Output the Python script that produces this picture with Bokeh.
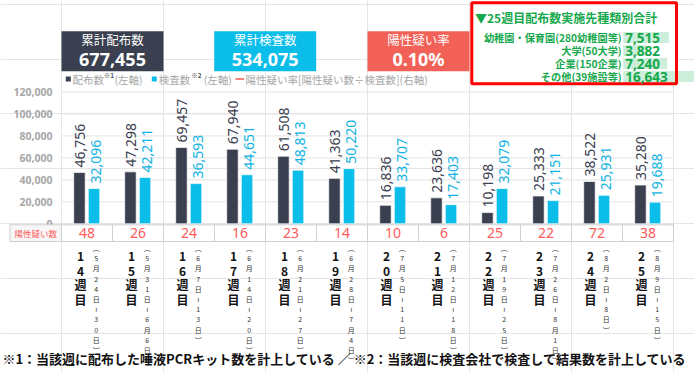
import math
from bokeh.plotting import figure
from bokeh.models import Range1d, ColumnDataSource
from bokeh.core.properties import value
from bokeh.transform import dodge
from bokeh.embed import file_html
from bokeh.resources import INLINE

# ---------------- data ----------------
weeks = ["14週目", "15週目", "16週目", "17週目", "18週目", "19週目",
         "20週目", "21週目", "22週目", "23週目", "24週目", "25週目"]
dates = ["5月24日~30日", "5月31日~6月6日", "6月7日~13日", "6月14日~20日",
         "6月21日~27日", "6月28日~7月4日", "7月5日~11日", "7月12日~18日",
         "7月19日~25日", "7月26日~8月1日", "8月2日~8日", "8月9日~15日"]
distributed = [46756, 47298, 69457, 67940, 61508, 41363, 16836, 23636, 10198, 25333, 38522, 35280]
tested = [32096, 42211, 36593, 44651, 48813, 50220, 33707, 17403, 32079, 21151, 25931, 19688]
suspected = [48, 26, 24, 16, 23, 14, 10, 6, 25, 22, 72, 38]
y_ticks = [0, 20000, 40000, 60000, 80000, 100000, 120000]

summary_titles = ["累計配布数", "累計検査数", "陽性疑い率"]
summary_values = ["677,455", "534,075", "0.10%"]

gb_title = "▼25週目配布数実施先種類別合計"
gb_labels = ["幼稚園・保育園(280幼稚園等)", "大学(50大学)", "企業(150企業)", "その他(39施設等)"]
gb_values = [7515, 3882, 7240, 16643]

table_label = "陽性疑い数"
legend_texts = ["配布数", "(左軸)", "検査数", "(左軸)", "陽性疑い率[陽性疑い数÷検査数](右軸)"]
legend_marks = ["※1", "※2"]
footnote = "※1：当該週に配布した唾液PCRキット数を計上している  ／  ※2：当該週に検査会社で検査して結果数を計上している"

# ---------------- style ----------------
DARK = "#3a4050"
CYAN = "#0bbde9"
REDBOX = "#f26157"
TRED = "#ff5a5a"
GREEN = "#16a84c"
GREEN_BG = "#cdeedb"
GRAY = "#a6a6a6"
JP = value("Noto Sans CJK JP")
NUM = value("Noto Sans")

W, H = 694, 372
X0 = 61            # left edge of first category column (px)
CAT_PX = 51        # px per category column
Y0, Y120 = 223.3, 91.5
vpp = 120000 / (Y0 - Y120)

p = figure(width=W, height=H, output_backend="svg", toolbar_location=None,
           x_range=Range1d(-X0 / CAT_PX, (W - X0) / CAT_PX),
           y_range=Range1d(-(H - Y0) * vpp, Y0 * vpp),
           x_axis_location=None, y_axis_location=None,
           min_border_left=0, min_border_right=0, min_border_top=0, min_border_bottom=0)
p.outline_line_color = None
p.background_fill_color = "white"
p.border_fill_color = "white"

# pixel-layout range for decorations
p.extra_x_ranges["px"] = Range1d(0, W)
p.extra_y_ranges["px"] = Range1d(H, 0)
# green box data bar ranges
GB_X0, GB_PPU = 622.7, 0.00607
p.extra_x_ranges["gb"] = Range1d(-GB_X0 / GB_PPU, (W - GB_X0) / GB_PPU)
GB_ROW0, GB_STEP = 37.0, 13.0
p.extra_y_ranges["gbrow"] = Range1d((H - GB_ROW0) / GB_STEP, -GB_ROW0 / GB_STEP)

n = len(weeks)
idx = list(range(n))
src = ColumnDataSource(dict(
    xc=[i + 0.5 for i in idx], xl=idx, xr=[i + 1 for i in idx],
    dist=distributed, test=tested,
    dist_lbl=[f"{v:,}" for v in distributed], test_lbl=[f"{v:,}" for v in tested],
    susp=[str(v) for v in suspected],
    wk_v=["\n".join(list(w)) for w in weeks],
    dt_v=["\n".join(["︵"] + [("≀" if c == "~" else c) for c in d] + ["︶"]) for d in dates],
))

# grid lines and y tick labels (value scale)
p.segment(x0=0, x1=n, y0=y_ticks, y1=y_ticks, line_color="#e3e3e3", line_width=1)
p.text(x=52, y=y_ticks, text=[f"{t:,}" for t in y_ticks], x_range_name="px",
       text_align="right", text_baseline="middle", text_font_size="10.5px",
       text_font_style="bold", text_color=GRAY, text_font=NUM)

# bars
p.vbar(x=dodge("xc", -0.148, range=p.x_range), top="dist", width=0.225, source=src,
       fill_color=DARK, line_color="white", line_width=0.7)
p.vbar(x=dodge("xc", 0.138, range=p.x_range), top="test", width=0.225, source=src,
       fill_color=CYAN, line_color="white", line_width=0.7)

# value labels
p.text(x=dodge("xc", -0.148, range=p.x_range), y="dist", text="dist_lbl", source=src,
       angle=math.pi / 2, text_align="left", text_baseline="middle", x_offset=1, y_offset=-5,
       text_font_size="14px", text_color=DARK, text_font=NUM)
p.text(x=dodge("xc", 0.138, range=p.x_range), y="test", text="test_lbl", source=src,
       angle=math.pi / 2, text_align="left", text_baseline="middle", x_offset=1.5, y_offset=-5,
       text_font_size="14px", text_color="#12b3e3", text_font=NUM)

# table row
T_TOP, T_BOT = 224.3, 241.0
p.quad(left="xl", right="xr", top=T_TOP, bottom=T_BOT, source=src, y_range_name="px",
       fill_color="white", line_color="#cfcfcf", line_width=1)
p.text(x="xc", y=(T_TOP + T_BOT) / 2, text="susp", source=src, y_range_name="px",
       text_align="center", text_baseline="middle", text_font_size="14px",
       text_color=TRED, text_font=NUM)
p.quad(left=9.5, right=X0, top=T_TOP, bottom=T_BOT, x_range_name="px", y_range_name="px",
       fill_color="#f7f7f7", line_color="#cfcfcf", line_width=1)
p.text(x=(9.5 + X0) / 2, y=(T_TOP + T_BOT) / 2, text=[table_label], x_range_name="px",
       y_range_name="px", text_align="center", text_baseline="middle",
       text_font_size="8.5px", text_color=TRED, text_font=JP)

# x labels (vertical)
p.text(x=dodge("xc", -0.127, range=p.x_range), y=246.5, text="wk_v", source=src, y_range_name="px",
       text_align="center", text_baseline="top", text_font_size="12px", text_font_style="bold",
       text_line_height=0.86, text_color="#111111", text_font=JP)
p.text(x=dodge("xc", 0.18, range=p.x_range), y=242.5, text="dt_v", source=src, y_range_name="px",
       text_align="center", text_baseline="top", text_font_size="7px",
       text_line_height=1.02, text_color="#333333", text_font=JP)

# header summary boxes
BOX_L = [61, 213.7, 367]
BOX_W = 102
BOX_C = [DARK, CYAN, REDBOX]
p.quad(left=BOX_L, right=[b + BOX_W for b in BOX_L], top=30.7, bottom=70.7,
       x_range_name="px", y_range_name="px", fill_color=BOX_C, line_color=None)
p.text(x=[b + BOX_W / 2 for b in BOX_L], y=38.5, text=summary_titles, x_range_name="px",
       y_range_name="px", text_align="center", text_baseline="middle", text_font_size="12.5px",
       text_color="white", text_font=JP)
p.text(x=[b + BOX_W / 2 for b in BOX_L], y=58.5, text=summary_values, x_range_name="px",
       y_range_name="px", text_align="center", text_baseline="middle", text_font_size="18px",
       text_font_style="bold", text_color="white", text_font=NUM)

# legend row
LY = 78.5
p.rect(x=[67.8, 153.8], y=LY, width=5, height=5, x_range_name="px", y_range_name="px",
       fill_color=[DARK, CYAN], line_color=None)
p.segment(x0=235, x1=243.5, y0=LY, y1=LY, x_range_name="px", y_range_name="px",
          line_color="#f4817a", line_width=2)
p.text(x=[72, 114, 158.3, 203.3, 245], y=LY, text=legend_texts,
       x_range_name="px", y_range_name="px", text_align="left", text_baseline="middle",
       text_font_size="10.5px", text_color=GRAY, text_font=JP)
p.text(x=[103.3, 190.7], y=74.5, text=legend_marks, x_range_name="px", y_range_name="px",
       text_align="left", text_baseline="middle", text_font_size="6.5px", text_font_style="bold",
       text_color="#555555", text_font=JP)

# green summary box
GB_L, GB_R, GB_T, GB_B = 471.3, 676, 2.2, 83.3
p.quad(left=GB_L, right=GB_R, top=GB_T, bottom=GB_B, x_range_name="px", y_range_name="px",
       fill_color="white", line_color=None)
gb_src = ColumnDataSource(dict(row=list(range(len(gb_values))), val=gb_values,
                               lbl=gb_labels, vlbl=[f"{v:,}" for v in gb_values]))
p.hbar(y="row", left=0, right="val", height=0.84, source=gb_src,
       x_range_name="gb", y_range_name="gbrow", fill_color=GREEN_BG, line_color=None)
p.quad(left=GB_L, right=GB_R, top=GB_T, bottom=GB_B, x_range_name="px", y_range_name="px",
       fill_color=None, line_color="#ff0000", line_width=3)
p.text(x=474.5, y=17, text=[gb_title], x_range_name="px", y_range_name="px",
       text_align="left", text_baseline="middle", text_font_size="12px",
       text_font_style="bold", text_color=GREEN, text_font=JP)
p.text(x=0, y="row", text="lbl", source=gb_src, x_range_name="gb", y_range_name="gbrow",
       x_offset=-1.5, text_align="right", text_baseline="middle", text_font_size="10.2px",
       text_font_style="bold", text_color=GREEN, text_font=JP)
p.text(x=0, y="row", text="vlbl", source=gb_src, x_range_name="gb", y_range_name="gbrow",
       x_offset=2, text_align="left", text_baseline="middle", text_font_size="13.5px",
       text_font_style="bold", text_color=GREEN, text_font=NUM)

# footnote
p.text(x=347, y=357.5, text=[footnote], x_range_name="px", y_range_name="px",
       text_align="center", text_baseline="middle", text_font_size="13px",
       text_font_style="bold", text_color="#111111", text_font=JP)

open("out.html", "w").write(file_html(p, INLINE))
